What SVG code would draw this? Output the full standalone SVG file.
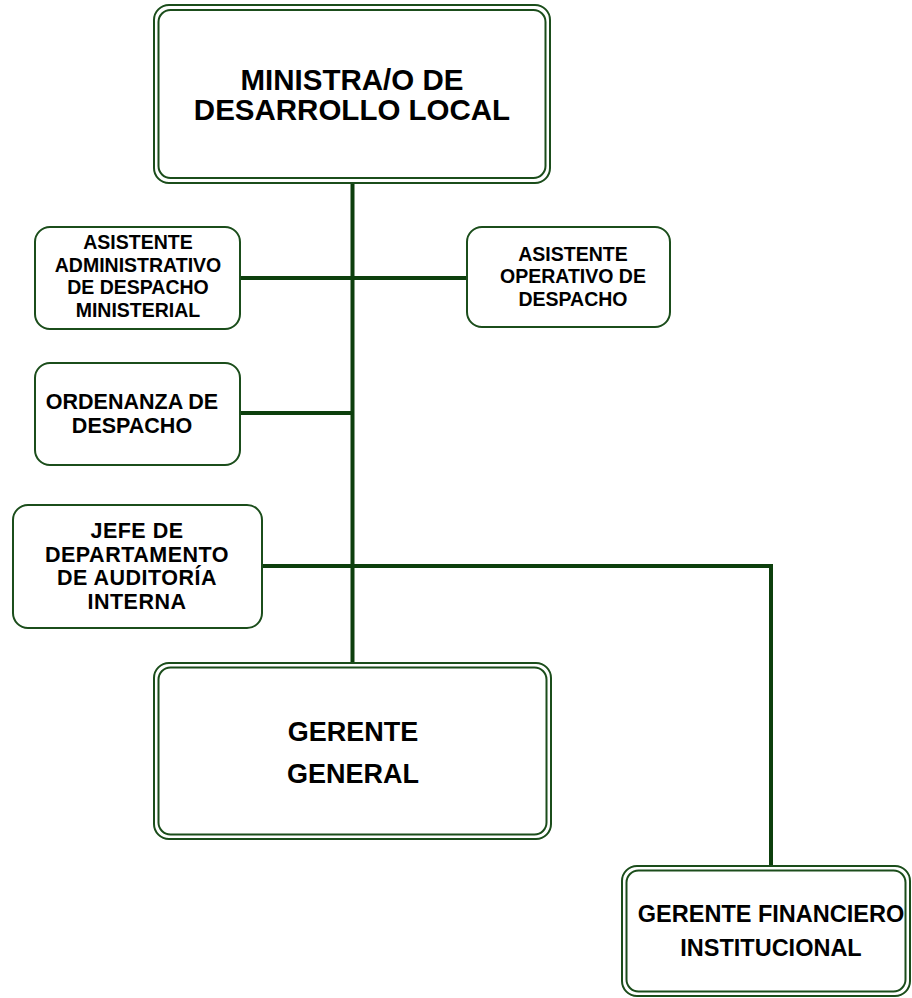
<svg xmlns="http://www.w3.org/2000/svg" width="912" height="998" viewBox="0 0 912 998">
<style>
.box{fill:#fff;stroke:#1b4d1b;stroke-width:2}
.inner{fill:none;stroke:#1b4d1b;stroke-width:2}
.line{fill:none;stroke:#0d3f0d;stroke-width:4;stroke-linecap:butt}
text{font-family:"Liberation Sans",Arial,sans-serif;font-weight:bold;fill:#000;text-anchor:middle}
.t1{font-size:29.5px}
.t2{font-size:27px}
.t3{font-size:19.5px}
.t5{font-size:21.5px}
.t4{font-size:23.5px}
</style>
<rect width="912" height="998" fill="#fff"/>
<g id="connectors">
<line class="line" x1="352.5" y1="183" x2="352.5" y2="664"/>
<line class="line" x1="240" y1="278" x2="467" y2="278"/>
<line class="line" x1="240" y1="413" x2="352.5" y2="413"/>
<polyline class="line" points="262,566 771,566 771,867"/>
</g>
<g id="ministro">
<rect class="box" x="154" y="5" width="396" height="178" rx="15"/>
<rect class="inner" x="158.5" y="10" width="387" height="168" rx="12"/>
<text class="t1" x="352" y="90">MINISTRA/O DE</text>
<text class="t1" x="352" y="120">DESARROLLO LOCAL</text>
</g>
<g id="asistente-admin">
<rect class="box" x="35" y="227" width="205" height="102" rx="15"/>
<text class="t3" x="138" y="249">ASISTENTE</text>
<text class="t3" x="138" y="272">ADMINISTRATIVO</text>
<text class="t3" x="138" y="294">DE DESPACHO</text>
<text class="t3" x="138" y="317">MINISTERIAL</text>
</g>
<g id="asistente-operativo">
<rect class="box" x="467" y="227" width="203" height="100" rx="15"/>
<text class="t3" x="573" y="261">ASISTENTE</text>
<text class="t3" x="573" y="283">OPERATIVO DE</text>
<text class="t3" x="573" y="306">DESPACHO</text>
</g>
<g id="ordenanza">
<rect class="box" x="35" y="363" width="205" height="102" rx="15"/>
<text class="t5" x="132" y="409">ORDENANZA DE</text>
<text class="t5" x="132" y="433">DESPACHO</text>
</g>
<g id="jefe-auditoria">
<rect class="box" x="13" y="505" width="249" height="123" rx="15"/>
<text class="t5" x="137" y="538" letter-spacing="0.5">JEFE DE</text>
<text class="t5" x="137" y="562" letter-spacing="0.5">DEPARTAMENTO</text>
<text class="t5" x="137" y="585" letter-spacing="0.5">DE AUDITORÍA</text>
<text class="t5" x="137" y="609" letter-spacing="0.5">INTERNA</text>
</g>
<g id="gerente-general">
<rect class="box" x="154" y="663" width="397" height="176" rx="15"/>
<rect class="inner" x="158.5" y="667.5" width="388" height="167" rx="12"/>
<text class="t2" x="353" y="741">GERENTE</text>
<text class="t2" x="353" y="783">GENERAL</text>
</g>
<g id="gerente-financiero">
<rect class="box" x="622" y="866" width="288" height="130" rx="15"/>
<rect class="inner" x="626.5" y="870.5" width="279" height="121" rx="12"/>
<text class="t4" x="771" y="922">GERENTE FINANCIERO</text>
<text class="t4" x="771" y="956">INSTITUCIONAL</text>
</g>
</svg>
